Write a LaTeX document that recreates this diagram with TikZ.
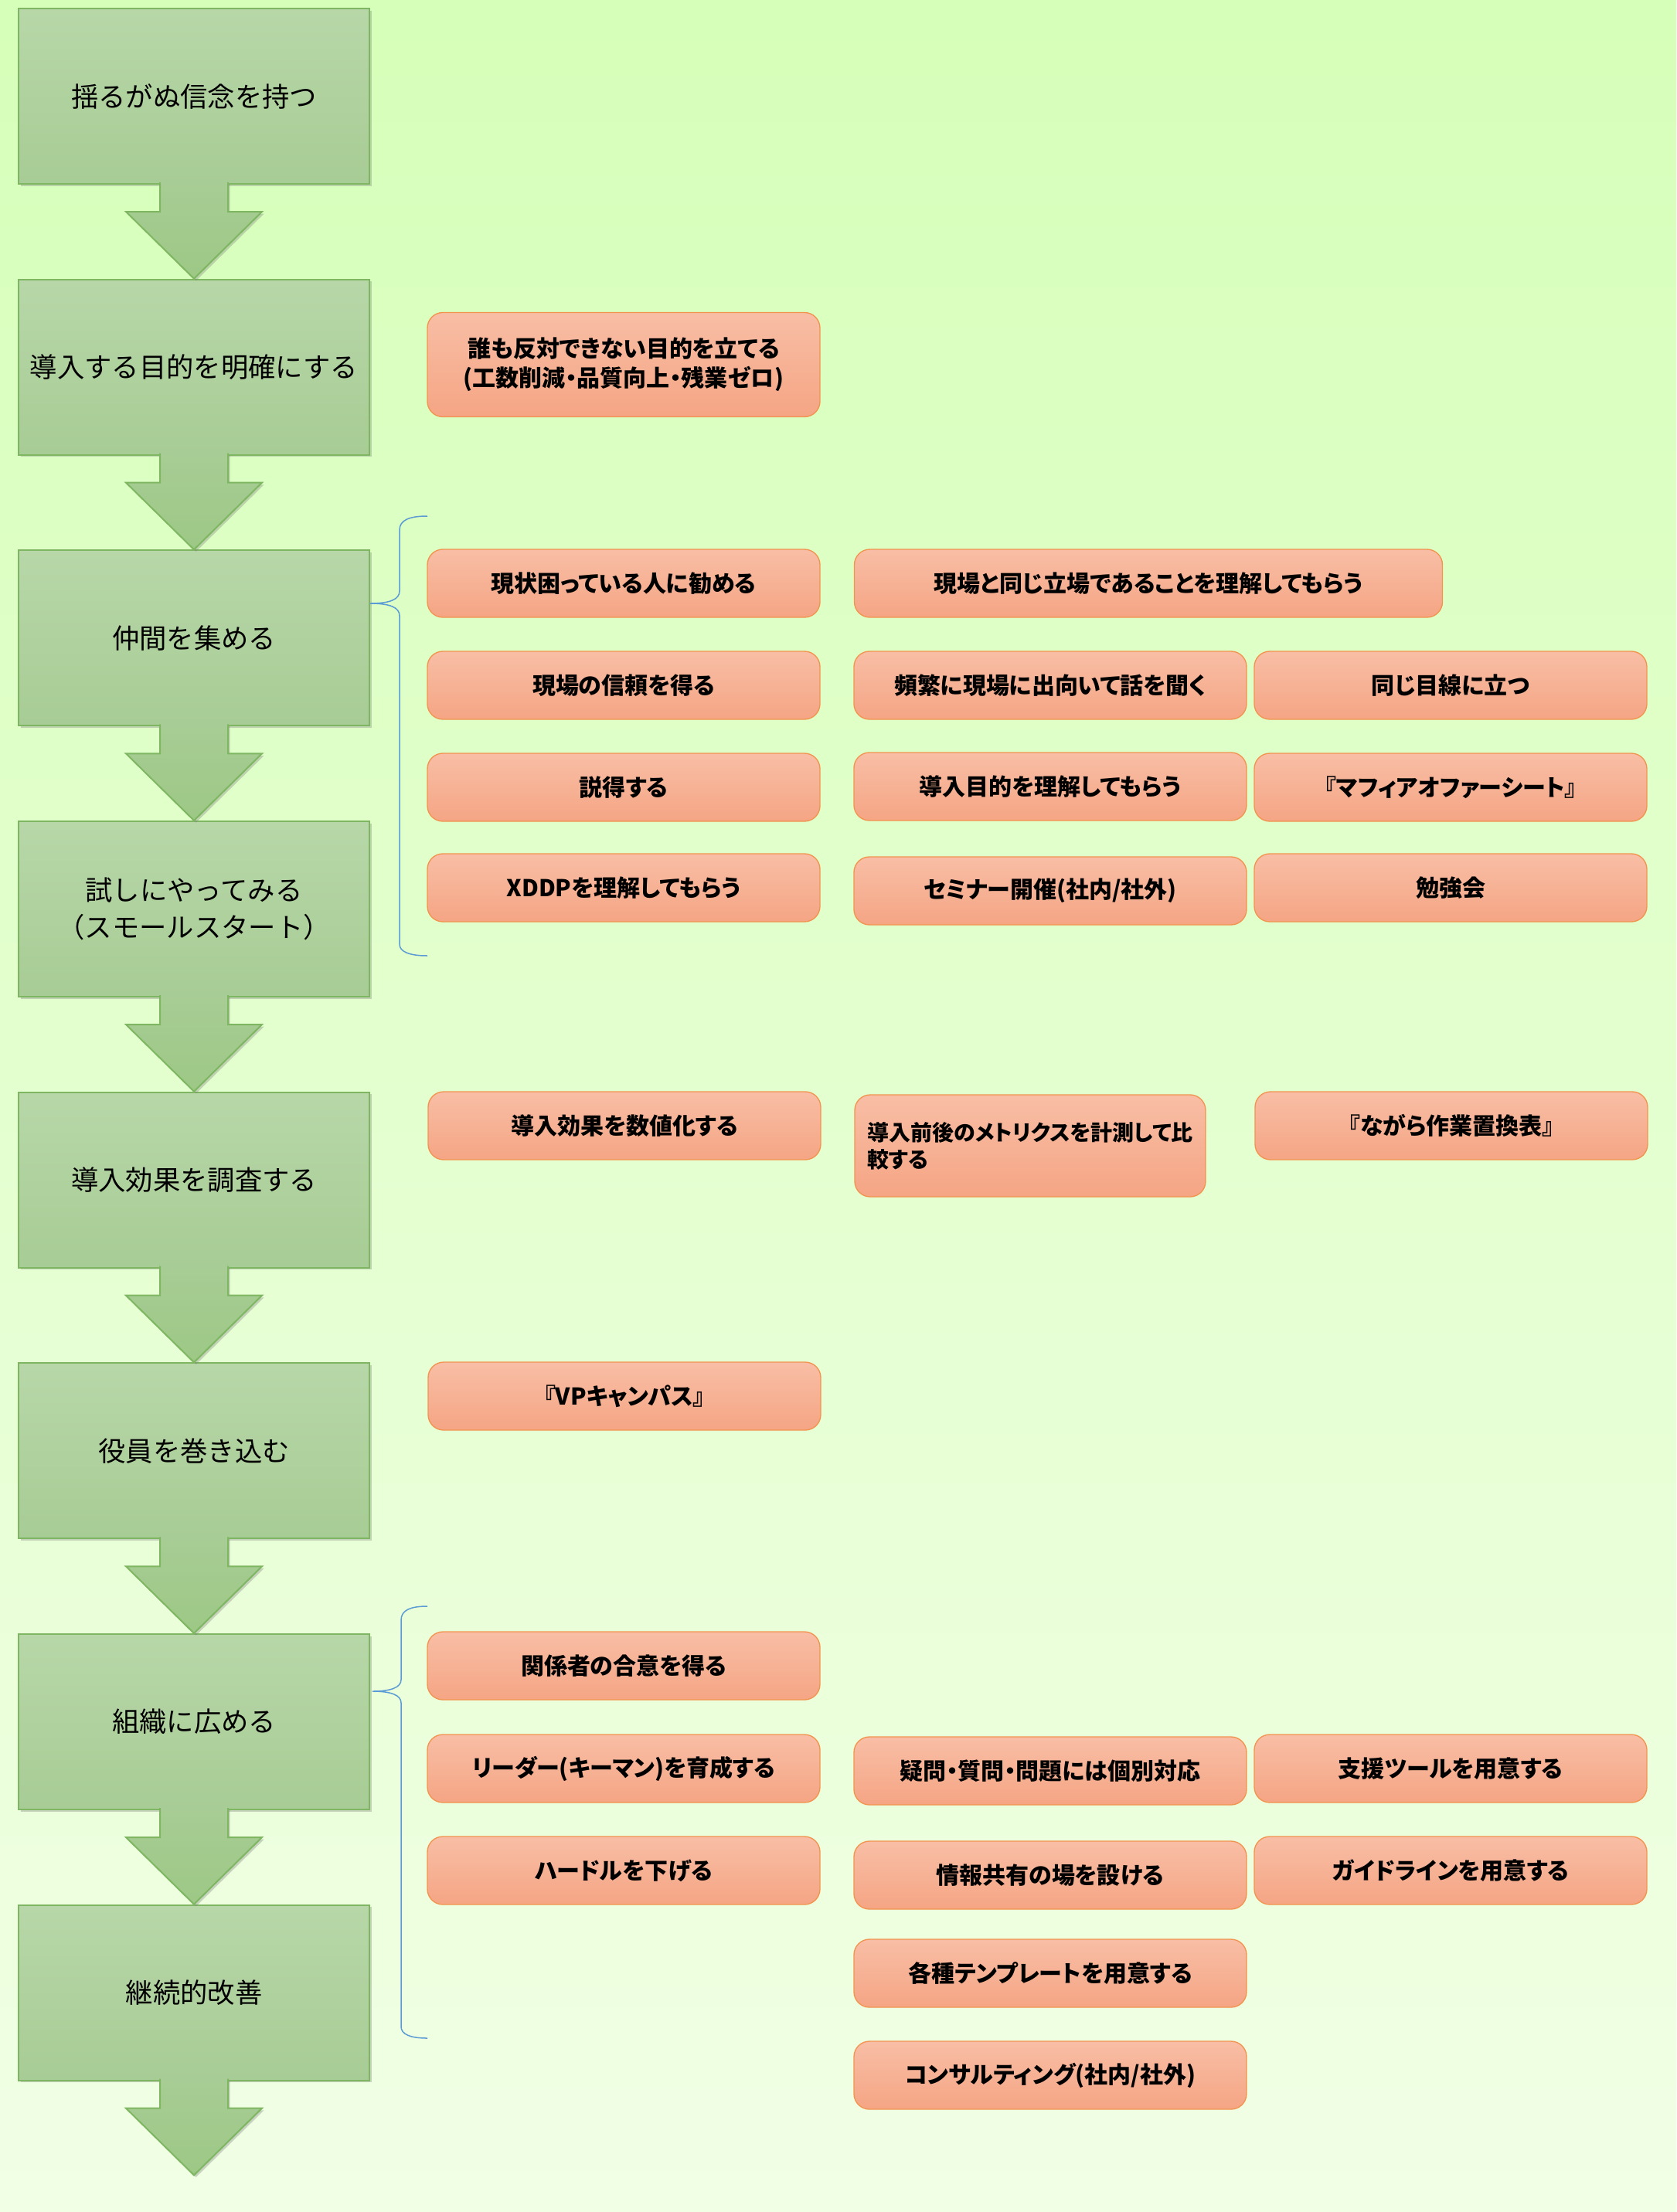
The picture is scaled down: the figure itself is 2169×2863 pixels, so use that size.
\documentclass[tikz,border=0pt]{standalone}
\usepackage{fontspec}
\setmainfont{Noto Sans CJK JP}
\newfontfamily\boxfont[RawFeature=+palt]{Noto Sans CJK JP}
\usetikzlibrary{positioning,shadows,calc}

\definecolor{bgtop}{HTML}{D6FFB9}
\definecolor{bgbot}{HTML}{F1FFE5}
\definecolor{stagetop}{HTML}{B7D7A8}
\definecolor{stagebot}{HTML}{A8CC95}
\definecolor{flowbot}{HTML}{9CC885}
\definecolor{stageline}{HTML}{7EB662}
\definecolor{ideatop}{HTML}{F8BEA5}
\definecolor{ideabot}{HTML}{F5A584}
\definecolor{idealine}{HTML}{F29450}
\definecolor{bracecol}{HTML}{5B9BD5}

\tikzset{
  stage/.style={rectangle, draw=stageline, line width=0.6pt, top color=stagetop, bottom color=stagebot,
    minimum width=136.2pt, minimum height=68.1pt, align=center, font=\fontsize{10.6}{14.4}\selectfont,
    drop shadow={shadow xshift=0.8pt, shadow yshift=-0.8pt, opacity=0.35}},
  flow/.style={draw=stageline, line width=0.6pt, top color=stagebot, bottom color=flowbot,
    drop shadow={shadow xshift=0.8pt, shadow yshift=-0.8pt, opacity=0.35},
    to path={($(\tikztostart.south)+(-44,-3)$) -- ++(0,38) -- ++(-44,0) -- (\tikztotarget)
      -- ($(\tikztostart.south)+(88,35)$) -- ++(-44,0) -- ++(0,-38)}},
  idea/.style={rectangle, rounded corners=6pt, draw=idealine, line width=0.4pt, top color=ideatop, bottom color=ideabot,
    minimum width=152.4pt, minimum height=26.4pt, align=center, font=\boxfont\bfseries\fontsize{9}{11.4}\selectfont},
  bracket/.style={draw=bracecol, line width=0.45pt}
}

\begin{document}
\begin{tikzpicture}[x=0.3pt, y=-0.3pt]
\useasboundingbox (0,0) rectangle (2169,2863);
\shade[top color=bgtop, bottom color=bgbot] (0,0) rectangle (2169,2863);

% steps on the left
\node[stage](belief) at (251,124.5) {揺るがぬ信念を持つ};
\node[stage](purpose)[below = 36.5pt of belief]{導入する目的を明確にする};
\node[stage](allies)[below = 36.5pt of purpose]{仲間を集める};
\node[stage](trial)[below = 36.5pt of allies]{試しにやってみる\\（スモールスタート）};
\node[stage](effect)[below = 36.5pt of trial]{導入効果を調査する};
\node[stage](execs)[below = 36.5pt of effect]{役員を巻き込む};
\node[stage](spread)[below = 36.5pt of execs]{組織に広める};
\node[stage](improve)[below = 36.5pt of spread]{継続的改善};
\coordinate[below = 36.5pt of improve] (end);

\path
(belief) edge[flow] (purpose.north)
(purpose) edge[flow] (allies.north)
(allies) edge[flow] (trial.north)
(trial) edge[flow] (effect.north)
(effect) edge[flow] (execs.north)
(execs) edge[flow] (spread.north)
(spread) edge[flow] (improve.north)
(improve) edge[flow] (end);

% actions
\node[idea, minimum height=40.5pt](goal) at (807,472) {誰も反対できない目的を立てる\\(工数削減・品質向上・残業ゼロ)};

\node[idea](recommend) at (807,755) {現状困っている人に勧める};
\node[idea, minimum width=228.3pt](sameside) at (1486,755) {現場と同じ立場であることを理解してもらう};
\node[idea](trust) at (807,887) {現場の信頼を得る};
\node[idea](visit) at (1359,887) {頻繁に現場に出向いて話を聞く};
\node[idea](eyelevel) at (1877,887) {同じ目線に立つ};
\node[idea](persuade) at (807,1019) {説得する};
\node[idea](aimshare) at (1359,1018) {導入目的を理解してもらう};
\node[idea](mafia) at (1877,1019) {『マフィアオファーシート』};
\node[idea](xddp) at (807,1149) {XDDPを理解してもらう};
\node[idea](seminar) at (1359,1153) {セミナー開催(社内/社外)};
\node[idea](study) at (1877,1149) {勉強会};

\node[idea](measure) at (808,1457) {導入効果を数値化する};
\node[idea, minimum width=136.2pt, minimum height=39.6pt, align=left,
  font=\boxfont\bfseries\fontsize{8.4}{10.5}\selectfont](compare) at (1333,1483) {導入前後のメトリクスを計測して比\\較する};
\node[idea](nagara) at (1878,1457) {『ながら作業置換表』};

\node[idea](vpcanvas) at (808,1807) {『VPキャンパス』};

\node[idea](consent) at (807,2156) {関係者の合意を得る};
\node[idea](leader) at (807,2289) {リーダー(キーマン)を育成する};
\node[idea](support) at (1359,2292) {疑問・質問・問題には個別対応};
\node[idea](tools) at (1877,2289) {支援ツールを用意する};
\node[idea](hurdle) at (807,2421) {ハードルを下げる};
\node[idea](infoshare) at (1359,2427) {情報共有の場を設ける};
\node[idea](guideline) at (1877,2421) {ガイドラインを用意する};
\node[idea](template) at (1359,2554) {各種テンプレートを用意する};
\node[idea](consult) at (1359,2686) {コンサルティング(社内/社外)};

% braces
\coordinate (allytip) at (479,781);
\coordinate (spreadtip) at (482,2189);
\draw[bracket] (553,668) .. controls (530,668) and (517,673) .. (517,686) -- (517,765)
  .. controls (517,776) and (504,781) .. (allytip) .. controls (504,781) and (517,786) .. (517,797)
  -- (517,1222) .. controls (517,1232) and (530,1237) .. (553,1237);
\draw[bracket] (553,2079) .. controls (531,2079) and (519,2084) .. (519,2097) -- (519,2174)
  .. controls (519,2184) and (506,2189) .. (spreadtip) .. controls (506,2189) and (519,2194) .. (519,2204)
  -- (519,2623) .. controls (519,2633) and (531,2638) .. (553,2638);
\end{tikzpicture}
\end{document}
